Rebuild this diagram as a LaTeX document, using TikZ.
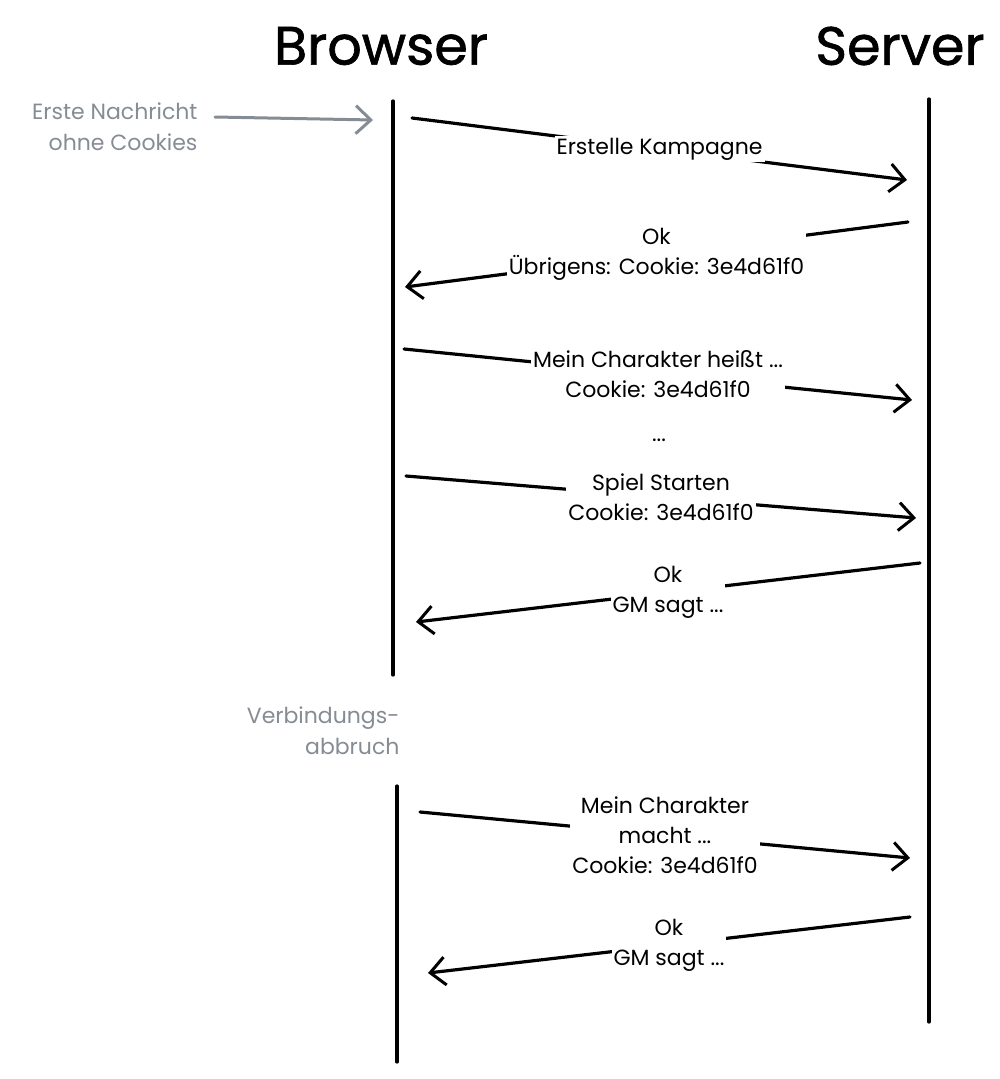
\documentclass[tikz,border=0pt]{standalone}
\usepackage{fontspec}
\setmainfont{Poppins}
\newfontfamily\titlefont[FakeBold=1.2]{Poppins}
\usepackage{tikz}
\usetikzlibrary{arrows.meta}
\definecolor{notegray}{HTML}{868C94}

\begin{document}
\begin{tikzpicture}[x=1pt,y=-1pt,
    life/.style={line width=3.2pt,line cap=round},
    msg/.style={line width=3.2pt,line cap=round,-{Straight Barb[length=15pt,width=28pt,line width=3pt]}},
    notearrow/.style={line width=3pt,notegray,line cap=round,-{Straight Barb[length=15pt,width=28pt,line width=3pt]}},
    msglabel/.style={fill=white,align=center,inner sep=2pt,font=\fontsize{22}{30}\selectfont},
    note/.style={text=notegray,font=\fontsize{22}{31}\selectfont},
    title/.style={font=\titlefont\fontsize{54}{54}\selectfont}]
        \useasboundingbox (0,0) rectangle (999,1079);
        \node[title] (browser) at (381,46) {Browser};
        \node[title] (server) at (900,46) {Server};
        % lifelines
        \coordinate (bt) at (393,101);
        \coordinate (bb) at (393,675);
        \coordinate (bt2) at (397,786);
        \coordinate (bb2) at (397,1062);
        \coordinate (st) at (929,99);
        \coordinate (sb) at (929,1022);
        \draw[life] (bt) -- (bb);
        \draw[life] (bt2) -- (bb2);
        \draw[life] (st) -- (sb);
        % notes
        \node[note,align=right,anchor=east] (first) at (201,127) {Erste Nachricht\\ohne Cookies};
        \coordinate (firststart) at (215,117);
        \coordinate (firstend) at (373,120);
        \draw[notearrow] (firststart) -- (firstend);
        \node[note,align=right,anchor=east] (abbruch) at (403,731) {Verbindungs-\\abbruch};
        % messages
        \coordinate (m1a) at (412,118);   \coordinate (m1b) at (907,180);
        \coordinate (m2a) at (908,222);   \coordinate (m2b) at (405,287);
        \coordinate (m3a) at (404,349);   \coordinate (m3b) at (912,400);
        \coordinate (m5a) at (406,476);   \coordinate (m5b) at (916,518);
        \coordinate (m6a) at (920,563);   \coordinate (m6b) at (416,622);
        \coordinate (m7a) at (420,812);   \coordinate (m7b) at (910,858);
        \coordinate (m8a) at (910,917);   \coordinate (m8b) at (428,973);
        \draw[msg] (m1a) -- node[msglabel] (l1) {Erstelle Kampagne} (m1b);
        \draw[msg] (m2a) -- node[msglabel] (l2) {Ok\\Übrigens: Cookie: 3e4d61f0} (m2b);
        \draw[msg] (m3a) -- node[msglabel] (l3) {Mein Charakter heißt ...\\Cookie: 3e4d61f0} (m3b);
        \node[msglabel,fill=none] (dots) at (659,440) {...};
        \draw[msg] (m5a) -- node[msglabel] (l5) {Spiel Starten\\Cookie: 3e4d61f0} (m5b);
        \draw[msg] (m6a) -- node[msglabel] (l6) {Ok\\GM sagt ...} (m6b);
        \draw[msg] (m7a) -- node[msglabel] (l7) {Mein Charakter\\macht ...\\Cookie: 3e4d61f0} (m7b);
        \draw[msg] (m8a) -- node[msglabel] (l8) {Ok\\GM sagt ...} (m8b);
\end{tikzpicture}
\end{document}
